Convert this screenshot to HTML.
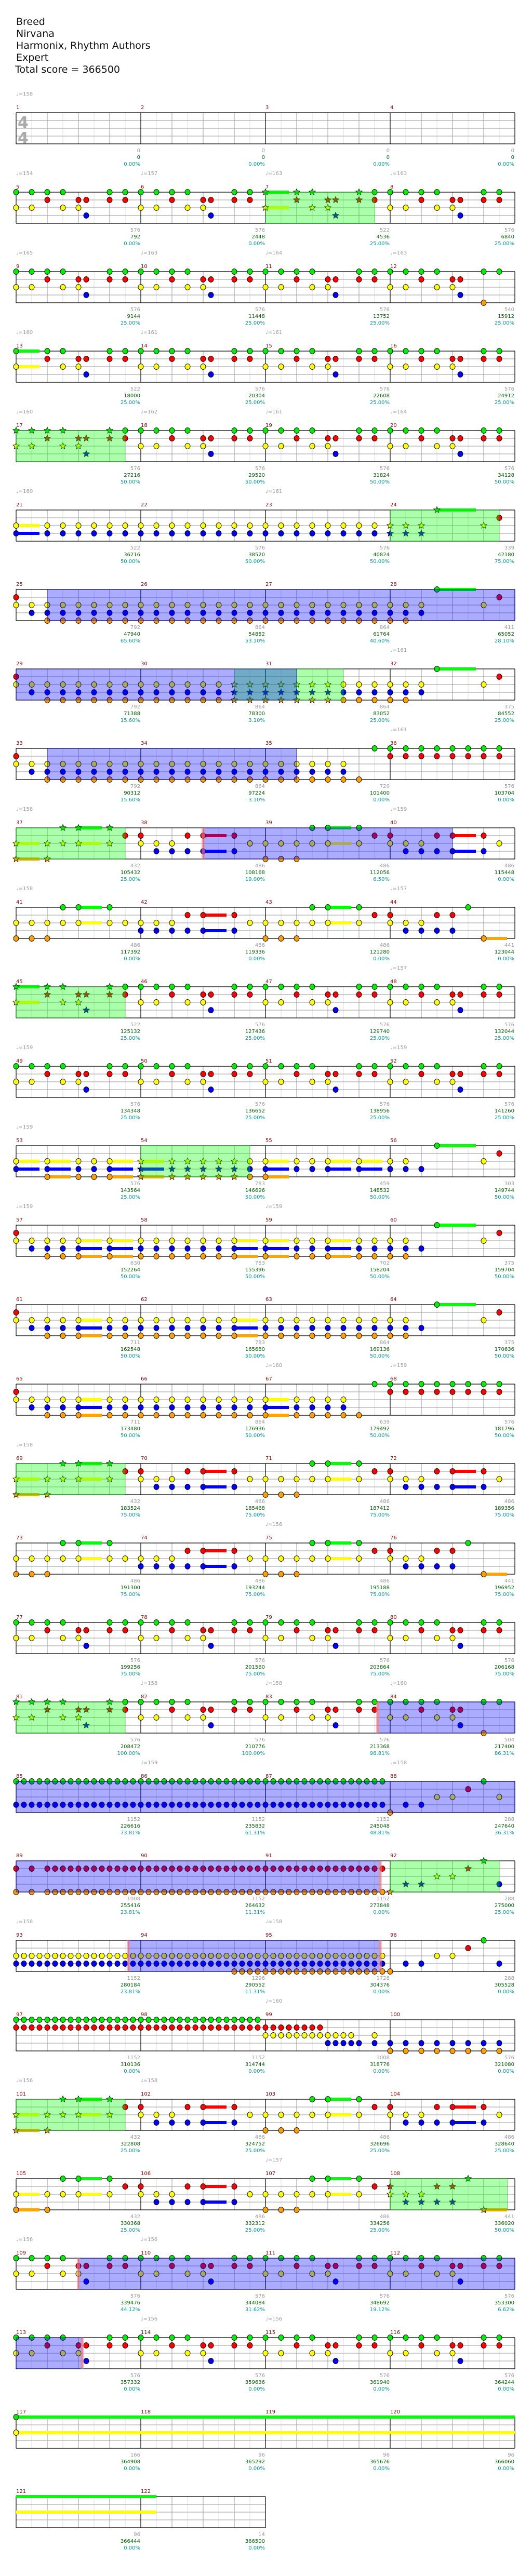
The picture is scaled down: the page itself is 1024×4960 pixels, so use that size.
<!DOCTYPE html>
<html><head><meta charset="utf-8"><title>Breed - Nirvana - Expert</title>
<style>
html,body{margin:0;padding:0;background:#fff;}
svg{display:block;}
text{font-family:"DejaVu Sans","Liberation Sans",sans-serif;}
</style></head>
<body>
<svg id="chart" xmlns="http://www.w3.org/2000/svg" width="1024" height="4960" viewBox="0 0 1024 4960">
  <g font-size="19" fill="#111">
    <text x="31" y="48">Breed</text>
    <text x="31" y="71">Nirvana</text>
    <text x="31" y="94">Harmonix, Rhythm Authors</text>
    <text x="31" y="117">Expert</text>
    <text x="29" y="140">Total score = 366500</text>
  </g>
  <g id="layer-grid"></g>
  <g id="layer-sus"></g>
  <g id="layer-notes"></g>
  <g id="layer-over"></g>
  <g id="layer-text"></g>
</svg>
<script>
// ---------- data ----------
const totalMeasures = 122;
const patterns = {
  A:   "GY0 GY2 GR4 GY6 RY8 RB9 GR12 GR14",
  A2:  "GY0 GY2 GR4 GY6 RY8 RB9 GO12 G14",
  A3:  "GY0:3 GR4 GY6 RY8 RB9 GR12 GR14",
  C1:  "YB0:3 YB4-14/2",
  C:   "YB0-14/2",
  C4:  "YB0 YB2 YB4 G6:5 Y12 R14",
  D1:  "RY0 YB2 YBO4-14/2",
  D:   "YBO0-14/2",
  D4:  "YBO0 YBO2 YB4 G6:5 Y12 R14",
  D35: "YBO0-10/2 O12 G14",
  GR8: "GR0-14/2",
  S37: "YO0:3 YO4 GY6 GY8:3 GY12 R14",
  E1:  "YO0 YO2 YO4 GY6 GY8:3 GY12 R14",
  E2:  "RY0 YB2 YB4 RB6 RB8:3 RB12 Y14",
  E1b: "YO0 YO2 YO4 GY6 GY8:3 GY12 Y14",
  E2b: "YB0 YB2 YB4 RB6 RB8:3 RB12 Y14",
  E44: "RY0 YB2 YB4 RB6 RB8 G10 O12:3",
  P53: "YB0:3 YBO4:3 YBO8 YBO10 YBO12:3",
  P54: "YBO0:3 YBO4-14/2",
  P55: "YBO0:3 YB4 YB6 YB8:3 YB12:3",
  P56: "YB0 YB2 B4 G6:5 Y12 R14",
  P57: "RY0 YB2 YBO4 YBO6 YBO8:3 YBO12:3",
  P58: "YBO0-10/2 YBO12:3",
  P59: "YBO0:3 YBO4 YBO6 YBO8:3 YBO12 YBO14",
  P60: "YBO0 YBO2 B4 G6:5 Y12 R14",
  P61: "RY0 YB2 YBO4 YBO6 YBO8:3 YBO12 YBO14",
  P67: "YBO0:3 YBO4-10/2 O12 G14",
  GB16:"GB0-15/1",
  P88: "O0 B2 B4 Y6 Y8 R10 G12 Y14",
  P89: "RO0 RO2 RO4-15/1",
  RO16:"RO0-15/1",
  P92: "O0 B2 B4 Y6 Y8 R10 G12 B14",
  YB16:"YB0-15/1",
  P94: "YB0-15/1 O12-15/1",
  YBO16:"YBO0-15/1",
  GR16:"GR0-15/1",
  P99: "R0-7/1 Y0-11/1 B8-12/1 YB14",
  BO8: "BO0-14/2",
  P117:"G0:82 Y0:82",
  E:   ""
};
const measurePattern = [
  "E","E","E","E",
  "A","A","A3","A",
  "A","A","A","A2",
  "A3","A","A","A",
  "A","A","A","A",
  "C1","C","C","C4",
  "D1","D","D","D4",
  "D1","D","D","D4",
  "D1","D","D35","GR8",
  "S37","E2","E1","E2",
  "E1b","E2b","E1","E44",
  "A3","A","A","A",
  "A","A","A","A",
  "P53","P54","P55","P56",
  "P57","P58","P59","P60",
  "P61","P58","D","P60",
  "P61","D","P67","GR8",
  "S37","E2","E1","E2",
  "E1b","E2b","E1","E44",
  "A","A","A","A",
  "A","A","A","A2",
  "GB16","GB16","GB16","P88",
  "P89","RO16","RO16","P92",
  "YB16","P94","YBO16","P92",
  "GR16","GR16","P99","BO8",
  "S37","E2","E1","E2",
  "S37","E2","E1","E44",
  "A","A","A","A",
  "A","A","A","A",
  "P117","E","E","E",
  "E","E"
];
const starStarts = [7, 17, 24, 30.75, 37, 45, 54, 69, 81, 92, 101, 108];
const starEnds   = [7.875, 17.875, 24.875, 31.625, 37.875, 45.875, 54.875, 69.875, 81.875, 92.875, 101.875, 108.94];
const soloStarts = [25.25, 33.25, 38.5, 83.9, 93.9, 109.5];
const soloEnds   = [31.25, 35.25, 40.5, 91.92, 95.92, 113.53];
const markerTimes = [38.5, 83.9, 91.92, 93.9, 95.92, 109.5, 113.53];
const baseScores = [0,0,0,0, 576,576,522,576, 576,576,576,540, 522,576,576,576, 576,576,576,576,
  522,576,576,339, 792,864,864,411, 792,864,864,375, 792,864,720,576, 432,486,486,486,
  486,486,486,441, 522,576,576,576, 576,576,576,576, 576,783,459,303, 630,783,702,375,
  711,783,864,375, 711,864,639,576, 432,486,486,486, 486,486,486,441, 576,576,576,576,
  576,576,576,504, 1152,1152,1152,288, 1008,1152,1152,288, 1152,1296,1728,288, 1152,1152,1008,576,
  432,486,486,486, 432,486,486,441, 576,576,576,576, 576,576,576,576, 166,96,96,96, 96,14];
const totalScores = [0,0,0,0, 792,2448,4536,6840, 9144,11448,13752,15912, 18000,20304,22608,24912,
  27216,29520,31824,34128, 36216,38520,40824,42180, 47940,54852,61764,65052, 71388,78300,83052,84552,
  90312,97224,101400,103704, 105432,108168,112056,115448, 117392,119336,121280,123044,
  125132,127436,129740,132044, 134348,136652,138956,141260, 143564,146696,148532,149744,
  152264,155396,158204,159704, 162548,165680,169136,170636, 173480,176936,179492,181796,
  183524,185468,187412,189356, 191300,193244,195188,196952, 199256,201560,203864,206168,
  208472,210776,213368,217400, 226616,235832,245048,247640, 255416,264632,273848,275000,
  280184,290552,304376,305528, 310136,314744,318776,321080, 322808,324752,326696,328640,
  330368,332312,334256,336020, 339476,344084,348692,353300, 357332,359636,361940,364244,
  364908,365292,365676,366060, 366444,366500];
const percents = [0,0,0,0, 0,0,25,25, 25,25,25,25, 25,25,25,25, 50,50,50,50, 50,50,50,75,
  65.6,53.1,40.6,28.1, 15.6,3.1,25,25, 15.6,3.1,0,0, 25,19,6.5,0, 0,0,0,0, 25,25,25,25,
  25,25,25,25, 25,50,50,50, 50,50,50,50, 50,50,50,50, 50,50,50,50, 75,75,75,75, 75,75,75,75,
  75,75,75,75, 100,100,98.81,86.31, 73.81,61.31,48.81,36.31, 23.81,11.31,0,25, 23.81,11.31,0,0,
  0,0,0,0, 25,25,25,25, 25,25,25,50, 44.12,31.62,19.12,6.62, 0,0,0,0, 0,0,0,0, 0,0];
const tempoMeasures = [1,5,6,7,8,9,10,11,12,13,14,15,17,18,19,20,21,23,32,36,37,40,41,44,48,49,52,53,57,59,67,68,69,75,82,83,84,86,88,93,95,99,101,102,107,109,110,114,115];
const tempoValues   = [158,154,157,163,163,165,163,164,163,160,161,161,160,162,161,164,160,161,161,161,158,159,158,157,157,159,159,159,159,159,160,159,158,156,158,158,160,159,158,158,158,160,156,158,157,156,156,156,156];

// ---------- layout ----------
const NS = "http://www.w3.org/2000/svg";
const X0 = 31, MW = 240, TOP0 = 217, ROWH = 153, LANEH = 15, PER_ROW = 4;
const laneIdx = {G:0,R:1,Y:2,B:3,O:4};
const laneColor = ["#00ee00","#ff0000","#ffff00","#0000ff","#ff9f00"];
const susColor  = ["#00ff00","#ff0000","#ffff00","#0000ff","#ffa500"];
function rowOf(m){ return Math.floor((m-1)/PER_ROW); }
function rowTop(r){ return TOP0 + ROWH*r; }
function xAt(t){ const m=Math.floor(t+1e-9); return X0 + ((m-1)%PER_ROW)*MW + (t-m)*MW; }
function yLane(r,l){ return rowTop(r) + l*LANEH; }
function mk(tag, attrs, parent){
  const el = document.createElementNS(NS, tag);
  for (const k in attrs) el.setAttribute(k, attrs[k]);
  parent.appendChild(el); return el;
}
const gGrid = document.getElementById('layer-grid');
const gSus = document.getElementById('layer-sus');
const gNotes = document.getElementById('layer-notes');
const gOver = document.getElementById('layer-over');
const gText = document.getElementById('layer-text');

function segments(a,b){
  const out=[]; let t=a;
  while (t < b-1e-9){
    const m=Math.floor(t+1e-9); const r=rowOf(m);
    const rowEnd = (r+1)*PER_ROW + 1;
    const e = Math.min(b, rowEnd);
    out.push({r, x1:xAt(t), x2: xAt(t) + (e-t)*MW});
    t = e;
  }
  return out;
}

// ---------- staff grid ----------
const nRows = Math.ceil(totalMeasures/PER_ROW);
for (let r=0; r<nRows; r++){
  const nm = Math.min(PER_ROW, totalMeasures - r*PER_ROW);
  const top = rowTop(r), w = nm*MW, xEnd = X0 + w;
  const st = mk('g', {}, gGrid);
  
  
  for (let k=1; k<nm*8; k++){
    if (k%8===0) continue;
    const x = X0 + k*30;
    mk('line', {x1:x, y1:top, x2:x, y2:top+60, stroke: k%2 ? '#dcdcdc' : '#9a9a9a', 'stroke-width':1}, st);
  }
  for (let l=1; l<4; l++) mk('line', {x1:X0, y1:top+l*LANEH, x2:xEnd, y2:top+l*LANEH, stroke:'#9a9a9a','stroke-width':1}, st);
  for (let k=0; k<=nm; k++) mk('line', {x1:X0+k*MW, y1:top, x2:X0+k*MW, y2:top+60, stroke:'#000','stroke-width':1.2}, st);
  mk('line', {x1:X0, y1:top, x2:xEnd, y2:top, stroke:'#000','stroke-width':1.2}, st);
  mk('line', {x1:X0, y1:top+60, x2:xEnd, y2:top+60, stroke:'#000','stroke-width':1.2}, st);
}
const ts1 = mk('text', {x:34, y:246, 'font-size':30, 'font-weight':'bold', fill:'#aaa'}, gGrid); ts1.textContent='4';


const ts2 = mk('text', {x:34, y:276, 'font-size':30, 'font-weight':'bold', fill:'#aaa'}, gGrid); ts2.textContent='4';



// ---------- notes ----------
function inRange(t, starts, ends){ for (let i=0;i<starts.length;i++) if (t>=starts[i]-1e-6 && t<ends[i]-1e-6) return true; return false; }
function starPath(cx, cy, R){
  const ri = R*0.45; let d='';
  for (let i=0;i<10;i++){ const a=-Math.PI/2 + i*Math.PI/5; const rr = i%2?ri:R;
    d += (i?'L':'M') + (cx+rr*Math.cos(a)).toFixed(2) + ' ' + (cy+rr*Math.sin(a)).toFixed(2); }
  return d+'Z';
}
function parsePattern(str){
  const notes=[]; if(!str) return notes;
  str.trim().split(/\s+/).forEach(tok=>{
    const mm = tok.match(/^([GRYBO]+)(\d+)(?:-(\d+)(?:\/(\d+))?)?(?::(\d+))?$/);
    if(!mm) return;
    const a=+mm[2], b= mm[3]!==undefined ? +mm[3] : a, s = mm[4]? +mm[4] : 1, sus = mm[5]? +mm[5] : 0;
    for (let p=a; p<=b; p+=s) for (const ch of mm[1]) notes.push({lane:laneIdx[ch], pos:p, sus});
  });
  return notes;
}
for (let m=1; m<=totalMeasures; m++){
  const notes = parsePattern(patterns[measurePattern[m-1]] || "");
  notes.forEach(n=>{
    const t = m + n.pos/16;
    const r = rowOf(m);
    if (n.sus>0){
      segments(t, t + n.sus/16).forEach(sg=>{
        const bar = mk('rect', {x:sg.x1, y:yLane(sg.r,n.lane)-3, width:sg.x2-sg.x1, height:6, fill:susColor[n.lane]}, gSus);
        
        
      });
    }
    const cx = xAt(t), cy = yLane(r, n.lane);
    let el;
    if (inRange(t, starStarts, starEnds)){
      el = mk('path', {d: starPath(cx, cy, 6.5), fill: laneColor[n.lane], stroke:'#000', 'stroke-width':0.8}, gNotes);
      
    } else {
      el = mk('ellipse', {cx, cy, rx:5, ry:5.4, fill: laneColor[n.lane], stroke:'#000', 'stroke-width':0.9}, gNotes);
      
    }
    
  });
}

// ---------- overlays ----------
starStarts.forEach((s,i)=>{
  segments(s, starEnds[i]).forEach(sg=>{
    const rc = mk('rect', {x:sg.x1, y:rowTop(sg.r), width:sg.x2-sg.x1, height:60, fill:'rgb(0,255,0)', 'fill-opacity':0.33, stroke:'#0a0', 'stroke-opacity':0.5}, gOver);
    
    
  });
});
soloStarts.forEach((s,i)=>{
  segments(s, soloEnds[i]).forEach(sg=>{
    const rc = mk('rect', {x:sg.x1, y:rowTop(sg.r), width:sg.x2-sg.x1, height:60, fill:'rgb(0,0,255)', 'fill-opacity':0.33, stroke:'#000080', 'stroke-opacity':0.6}, gOver);
    
    
  });
});
markerTimes.forEach(t=>{
  const r = rowOf(Math.floor(t));
  const rc = mk('rect', {x:xAt(t)-3, y:rowTop(r), width:6, height:60, fill:'#ff8080', 'fill-opacity':0.6}, gOver);
  
  
});

// ---------- labels ----------
for (let m=1; m<=totalMeasures; m++){
  const r = rowOf(m), top = rowTop(r), x = X0 + ((m-1)%PER_ROW)*MW, xe = x + MW;
  const num = mk('text', {x:x, y:top-7, 'font-size':10, fill:'#8b0000'}, gText);
  num.textContent = String(m);
  
  
  const b = mk('text', {x:xe-1, y:top+76, 'font-size':10, fill:'#999', 'text-anchor':'end'}, gText);
  b.textContent = String(baseScores[m-1]);
  
  
  const s = mk('text', {x:xe-1, y:top+89, 'font-size':10, fill:'#006400', 'text-anchor':'end'}, gText);
  s.textContent = String(totalScores[m-1]);
  
  
  const p = mk('text', {x:xe-1, y:top+102, 'font-size':10, fill:'#009999', 'text-anchor':'end'}, gText);
  p.textContent = percents[m-1].toFixed(2) + '%';
  
  
}
tempoMeasures.forEach((m,i)=>{
  const r = rowOf(m), top = rowTop(r), x = X0 + ((m-1)%PER_ROW)*MW;
  const t = mk('text', {x:x, y:top-33, 'font-size':10, fill:'#999'}, gText);
  t.textContent = '\u2669=' + tempoValues[i];
  
  
});
</script>
</body></html>
